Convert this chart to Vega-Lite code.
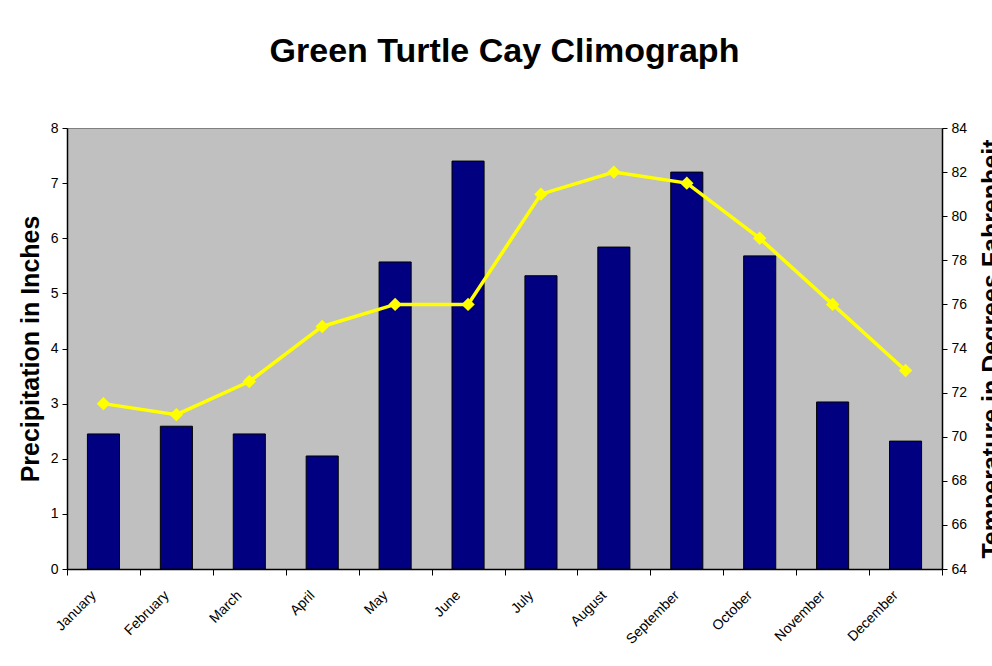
{
  "$schema": "https://vega.github.io/schema/vega-lite/v6.json",
  "autosize": {"type": "none"},
  "padding": {"left": 67, "top": 128, "right": 50, "bottom": 97},
  "width": 875,
  "height": 441,
  "background": "white",
  "title": {
    "text": "Green Turtle Cay Climograph",
    "font": "Liberation Sans",
    "fontSize": 34,
    "fontWeight": "bold",
    "color": "black",
    "anchor": "middle",
    "offset": 52
  },
  "config": {
    "view": {"fill": "#c0c0c0", "stroke": "#808080", "strokeWidth": 1},
    "axis": {
      "labelFont": "Liberation Sans",
      "labelColor": "black",
      "titleFont": "Liberation Sans",
      "titleColor": "black",
      "domainColor": "black",
      "tickColor": "black",
      "grid": false
    }
  },
  "data": {
    "values": [
      {"month": "January", "precip": 2.45, "temp": 71.5},
      {"month": "February", "precip": 2.59, "temp": 71},
      {"month": "March", "precip": 2.45, "temp": 72.5},
      {"month": "April", "precip": 2.05, "temp": 75},
      {"month": "May", "precip": 5.57, "temp": 76},
      {"month": "June", "precip": 7.4, "temp": 76},
      {"month": "July", "precip": 5.32, "temp": 81},
      {"month": "August", "precip": 5.84, "temp": 82},
      {"month": "September", "precip": 7.2, "temp": 81.5},
      {"month": "October", "precip": 5.68, "temp": 79},
      {"month": "November", "precip": 3.03, "temp": 76},
      {"month": "December", "precip": 2.32, "temp": 73}
    ]
  },
  "encoding": {
    "x": {
      "field": "month",
      "type": "nominal",
      "sort": null,
      "scale": {"paddingInner": 0, "paddingOuter": 0},
      "axis": {
        "title": null,
        "labelAngle": -45,
        "labelFontSize": 14,
        "labelPadding": 13,
        "labelOffset": -15,
        "tickBand": "extent",
        "tickSize": 6,
        "domainWidth": 1.5
      }
    }
  },
  "layer": [
    {
      "mark": {"type": "bar", "color": "#000080", "stroke": "black", "strokeWidth": 1, "width": {"band": 0.44}},
      "encoding": {
        "y": {
          "field": "precip",
          "type": "quantitative",
          "scale": {"domain": [0, 8], "nice": false},
          "axis": {
            "title": "Precipitation in Inches",
            "titleFontSize": 25,
            "titleFontWeight": "bold",
            "titlePadding": 7,
            "labelFontSize": 14,
            "labelPadding": 4,
            "values": [0, 1, 2, 3, 4, 5, 6, 7, 8],
            "labelOverlap": false,
            "tickSize": 5,
            "domainWidth": 1.5
          }
        }
      }
    },
    {
      "mark": {
        "type": "line",
        "color": "#ffff00",
        "strokeWidth": 3.5,
        "point": {"shape": "diamond", "filled": true, "color": "#ffff00", "size": 180}
      },
      "encoding": {
        "y": {
          "field": "temp",
          "type": "quantitative",
          "scale": {"domain": [64, 84], "nice": false, "zero": false},
          "axis": {
            "orient": "right",
            "title": "Temperature in Degrees Fahrenheit",
            "titleFontSize": 25,
            "titleFontWeight": "bold",
            "titleAngle": 270,
            "titleBaseline": "top",
            "titlePadding": 13,
            "labelFontSize": 14,
            "labelPadding": 4,
            "values": [64, 66, 68, 70, 72, 74, 76, 78, 80, 82, 84],
            "labelOverlap": false,
            "tickSize": 5,
            "domainWidth": 1.5
          }
        }
      }
    }
  ],
  "resolve": {"scale": {"y": "independent"}}
}
